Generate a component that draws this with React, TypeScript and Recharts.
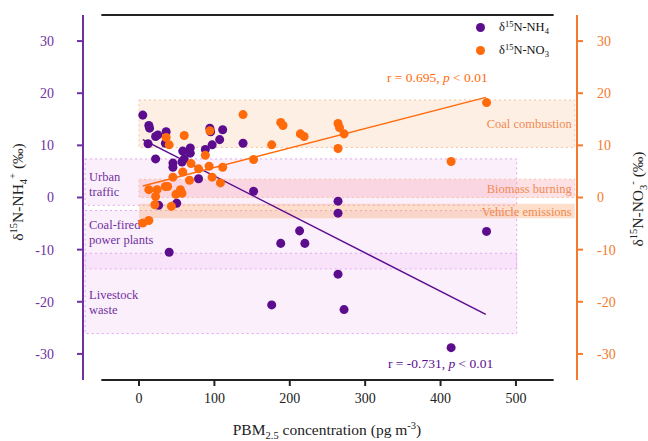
import React from "react";
import {
  ScatterChart,
  Scatter,
  XAxis,
  YAxis,
  ReferenceArea,
  ReferenceLine,
  Legend,
  Label,
} from "recharts";

// PBM2.5 concentration (x) and d15N (y) for each sample
const nh4Conc = [5, 13, 14, 12, 22, 25, 36, 35, 22, 45, 45, 57, 60, 58, 68, 68, 88, 97, 94, 95, 111, 107, 138, 79, 50, 26, 152, 264, 264, 213, 188, 220, 40, 264, 176, 272, 461, 414];
const nh4Delta = [15.8, 13.8, 13.3, 10.3, 11.7, 12.0, 12.6, 10.4, 7.4, 6.6, 5.8, 6.8, 7.4, 8.9, 9.5, 8.5, 9.2, 10.1, 13.3, 12.6, 13.0, 11.1, 10.4, 3.6, -1.1, -1.5, 1.2, -0.7, -3.0, -6.4, -8.8, -8.8, -10.5, -14.7, -20.6, -21.5, -6.5, -28.8];

const no3Conc = [5, 13, 13, 22, 21, 24, 35, 38, 36, 40, 43, 45, 49, 55, 57, 58, 60, 67, 69, 79, 88, 93, 94, 97, 108, 111, 138, 152, 176, 188, 191, 214, 219, 264, 266, 272, 264, 414, 461];
const no3Delta = [-4.9, -4.4, 1.5, 0.2, -1.4, 1.5, 2.1, 2.1, 11.5, 10.1, -1.7, 3.9, 0.6, 1.5, 0.8, 4.9, 11.9, 3.3, 6.5, 5.5, 8.1, 6.0, 12.8, 3.9, 2.8, 5.8, 15.9, 7.3, 10.1, 14.4, 13.8, 12.2, 11.7, 14.2, 13.4, 12.2, 9.4, 6.9, 18.2];

// regression line end points
const nh4FitX = [5, 460];
const nh4FitY = [11.1, -22.4];
const no3FitX = [5, 460];
const no3FitY = [2.2, 19.2];

// source ranges
const nh4Sources = ["Urban traffic", "Coal-fired power plants", "Livestock waste"];
const nh4SourceLow = [-1.5, -13.7, -26.1];
const nh4SourceHigh = [7.4, -2.5, -10.7];
const no3Sources = ["Coal combustion", "Biomass burning", "Vehicle emissions"];
const no3SourceLow = [9.6, 0.0, -4.0];
const no3SourceHigh = [18.7, 3.5, -1.2];

const xTicks = [0, 100, 200, 300, 400, 500];
const yTicks = [-30, -20, -10, 0, 10, 20, 30];

const nh4Data = nh4Conc.map((x, i) => ({ x, y: nh4Delta[i] }));
const no3Data = no3Conc.map((x, i) => ({ x, y: no3Delta[i] }));

const SERIF = "'Liberation Serif', 'Times New Roman', serif";
const PURPLE = "#7030A0";
const PURPLE_DOT = "#5B0D8E";
const ORANGE = "#F47A2C";
const ORANGE_DOT = "#FF6A0A";
const ORANGE_TEXT = "#F08A50";

const nh4Fill = ["#EFC3F5", "#EFC3F5", "#EFC3F5"];
const no3Fill = ["#FBC9AA", "#F9A9B4", "#F9B07E"];
const no3Opacity = [0.3, 0.35, 0.4];

const PurpleLabel = (lines: string[], dy: number) => (props: any) => {
  const vb = props.viewBox || {};
  return (
    <text
      x={vb.x + 4}
      y={vb.y + dy}
      fill={PURPLE}
      fontFamily={SERIF}
      fontSize={12.5}
    >
      {lines.map((l, i) => (
        <tspan key={i} x={vb.x + 4} dy={i === 0 ? 0 : 15}>
          {l}
        </tspan>
      ))}
    </text>
  );
};

const OrangeLabel = (text: string) => (props: any) => {
  const vb = props.viewBox || {};
  return (
    <text
      x={vb.x + vb.width - 3}
      y={vb.y + vb.height / 2 + 4.5}
      textAnchor="end"
      fill={ORANGE_TEXT}
      fontFamily={SERIF}
      fontSize={12.5}
    >
      {text}
    </text>
  );
};

const purpleLabels = [
  PurpleLabel(["Urban", "traffic"], 22),
  PurpleLabel(["Coal-fired", "power plants"], 18),
  PurpleLabel(["Livestock", "waste"], 46),
];

const LegendBox = () => (
  <div style={{ fontFamily: SERIF, fontSize: 12.5, color: "#111" }}>
    {[
      { c: PURPLE_DOT, sub: "4", name: "NH" },
      { c: ORANGE_DOT, sub: "3", name: "NO" },
    ].map((e) => (
      <div key={e.name} style={{ display: "flex", alignItems: "center", height: 23 }}>
        <span
          style={{
            width: 9,
            height: 9,
            borderRadius: "50%",
            background: e.c,
            display: "inline-block",
          }}
        />
        <span style={{ marginLeft: 14, lineHeight: "14px" }}>
          δ<sup style={{ fontSize: 8.5, verticalAlign: "4px" }}>15</sup>N-{e.name}
          <sub style={{ fontSize: 8.5, verticalAlign: "-3px" }}>{e.sub}</sub>
        </span>
      </div>
    ))}
  </div>
);

const App: React.FC = () => {
  return (
    <div style={{ position: "absolute", left: 0, top: 0, fontFamily: SERIF }}>
      <ScatterChart
        width={648}
        height={441}
        margin={{ top: 15, right: 11, bottom: 31, left: 23 }}
      >
        <XAxis
          type="number"
          dataKey="x"
          domain={[-74.3, 581]}
          ticks={xTicks}
          allowDataOverflow
          axisLine={false}
          tickLine={{ stroke: "#222", strokeWidth: 2 }}
          tickSize={6}
          tickMargin={7}
          height={30}
          tick={{ fill: "#222", fontSize: 14, fontFamily: SERIF }}
        >
          <Label
            content={() => (
              <text x={327} y={435} textAnchor="middle" fill="#222" fontFamily={SERIF} fontSize={15.5}>
                PBM
                <tspan fontSize={10.5} dy={4}>2.5</tspan>
                <tspan dy={-4}> concentration (pg m</tspan>
                <tspan fontSize={10.5} dy={-6}>-3</tspan>
                <tspan dy={6}>)</tspan>
              </text>
            )}
          />
        </XAxis>
        <YAxis
          yAxisId="left"
          type="number"
          dataKey="y"
          domain={[-35, 35]}
          ticks={yTicks}
          allowDataOverflow
          width={60}
          axisLine={{ stroke: PURPLE, strokeWidth: 2 }}
          tickLine={{ stroke: PURPLE, strokeWidth: 2 }}
          tickSize={6}
          tickMargin={23}
          tick={{ fill: PURPLE, fontSize: 14, fontFamily: SERIF }}
        >
          <Label
            content={() => (
              <text
                x={23}
                y={192}
                transform="rotate(-90 23 192)"
                textAnchor="middle"
                fill="#222"
                fontFamily={SERIF}
                fontSize={15.5}
              >
                δ<tspan fontSize={10.5} dy={-6}>15</tspan>
                <tspan dy={6}>N-NH</tspan>
                <tspan fontSize={10.5} dy={4}>4</tspan>
                <tspan fontSize={10.5} dy={-11}>+</tspan>
                <tspan dy={7}> (‰)</tspan>
              </text>
            )}
          />
        </YAxis>
        <YAxis
          yAxisId="right"
          orientation="right"
          type="number"
          dataKey="y"
          domain={[-35, 35]}
          ticks={yTicks}
          allowDataOverflow
          width={60}
          axisLine={{ stroke: ORANGE, strokeWidth: 2 }}
          tickLine={{ stroke: ORANGE, strokeWidth: 2 }}
          tickSize={6}
          tickMargin={14}
          tick={{ fill: ORANGE, fontSize: 14, fontFamily: SERIF, textAnchor: "start" }}
        >
          <Label
            content={() => (
              <text
                x={643}
                y={199}
                transform="rotate(-90 643 199)"
                textAnchor="middle"
                fill="#222"
                fontFamily={SERIF}
                fontSize={15.5}
              >
                δ<tspan fontSize={10.5} dy={-6}>15</tspan>
                <tspan dy={6}>N-NO</tspan>
                <tspan fontSize={10.5} dy={4}>3</tspan>
                <tspan fontSize={10.5} dy={-11}>-</tspan>
                <tspan dy={7}> (‰)</tspan>
              </text>
            )}
          />
        </YAxis>

        {nh4Sources.map((s, i) => (
          <ReferenceArea
            key={s}
            yAxisId="left"
            x1={-71.6}
            x2={501}
            y1={nh4SourceLow[i]}
            y2={nh4SourceHigh[i]}
            fill={nh4Fill[i]}
            fillOpacity={0.26}
            stroke="#E2A4EE"
            strokeDasharray="2 3"
            strokeWidth={1}
            label={purpleLabels[i]}
          />
        ))}
        {no3Sources.map((s, i) => (
          <ReferenceArea
            key={s}
            yAxisId="right"
            x1={0}
            x2={578}
            y1={no3SourceLow[i]}
            y2={no3SourceHigh[i]}
            fill={no3Fill[i]}
            fillOpacity={no3Opacity[i]}
            stroke={i === 2 ? "none" : "#F7C2A2"}
            strokeDasharray="2 3"
            strokeWidth={1}
            label={OrangeLabel(s)}
          />
        ))}

        <ReferenceLine
          yAxisId="left"
          segment={[
            { x: -50, y: 35 },
            { x: 550, y: 35 },
          ]}
          stroke="#222"
          strokeWidth={2}
        />
        <ReferenceLine
          yAxisId="left"
          segment={[
            { x: -50, y: -35 },
            { x: 550, y: -35 },
          ]}
          stroke="#222"
          strokeWidth={2}
        />
        <ReferenceLine
          yAxisId="left"
          segment={[
            { x: nh4FitX[0], y: nh4FitY[0] },
            { x: nh4FitX[1], y: nh4FitY[1] },
          ]}
          stroke={PURPLE_DOT}
          strokeWidth={1.5}
        />
        <ReferenceLine
          yAxisId="right"
          segment={[
            { x: no3FitX[0], y: no3FitY[0] },
            { x: no3FitX[1], y: no3FitY[1] },
          ]}
          stroke={ORANGE_DOT}
          strokeWidth={1.5}
        />

        <Scatter
          name="nh4"
          data={nh4Data}
          yAxisId="left"
          fill={PURPLE_DOT}
          isAnimationActive={false}
        />
        <Scatter
          name="no3"
          data={no3Data}
          yAxisId="right"
          fill={ORANGE_DOT}
          isAnimationActive={false}
        />

        <text x={387} y={82} fill={ORANGE_DOT} fontFamily={SERIF} fontSize={13.5}>
          r = 0.695, <tspan fontStyle="italic">p</tspan> &lt; 0.01
        </text>
        <text x={388} y={368} fill={PURPLE_DOT} fontFamily={SERIF} fontSize={13.5}>
          r = -0.731, <tspan fontStyle="italic">p</tspan> &lt; 0.01
        </text>

        <Legend
          layout="horizontal"
          verticalAlign="middle"
          align="center"
          content={() => <LegendBox />}
          wrapperStyle={{ top: 16, left: 476, width: 120, height: 46 }}
        />
      </ScatterChart>
    </div>
  );
};

export default App;
